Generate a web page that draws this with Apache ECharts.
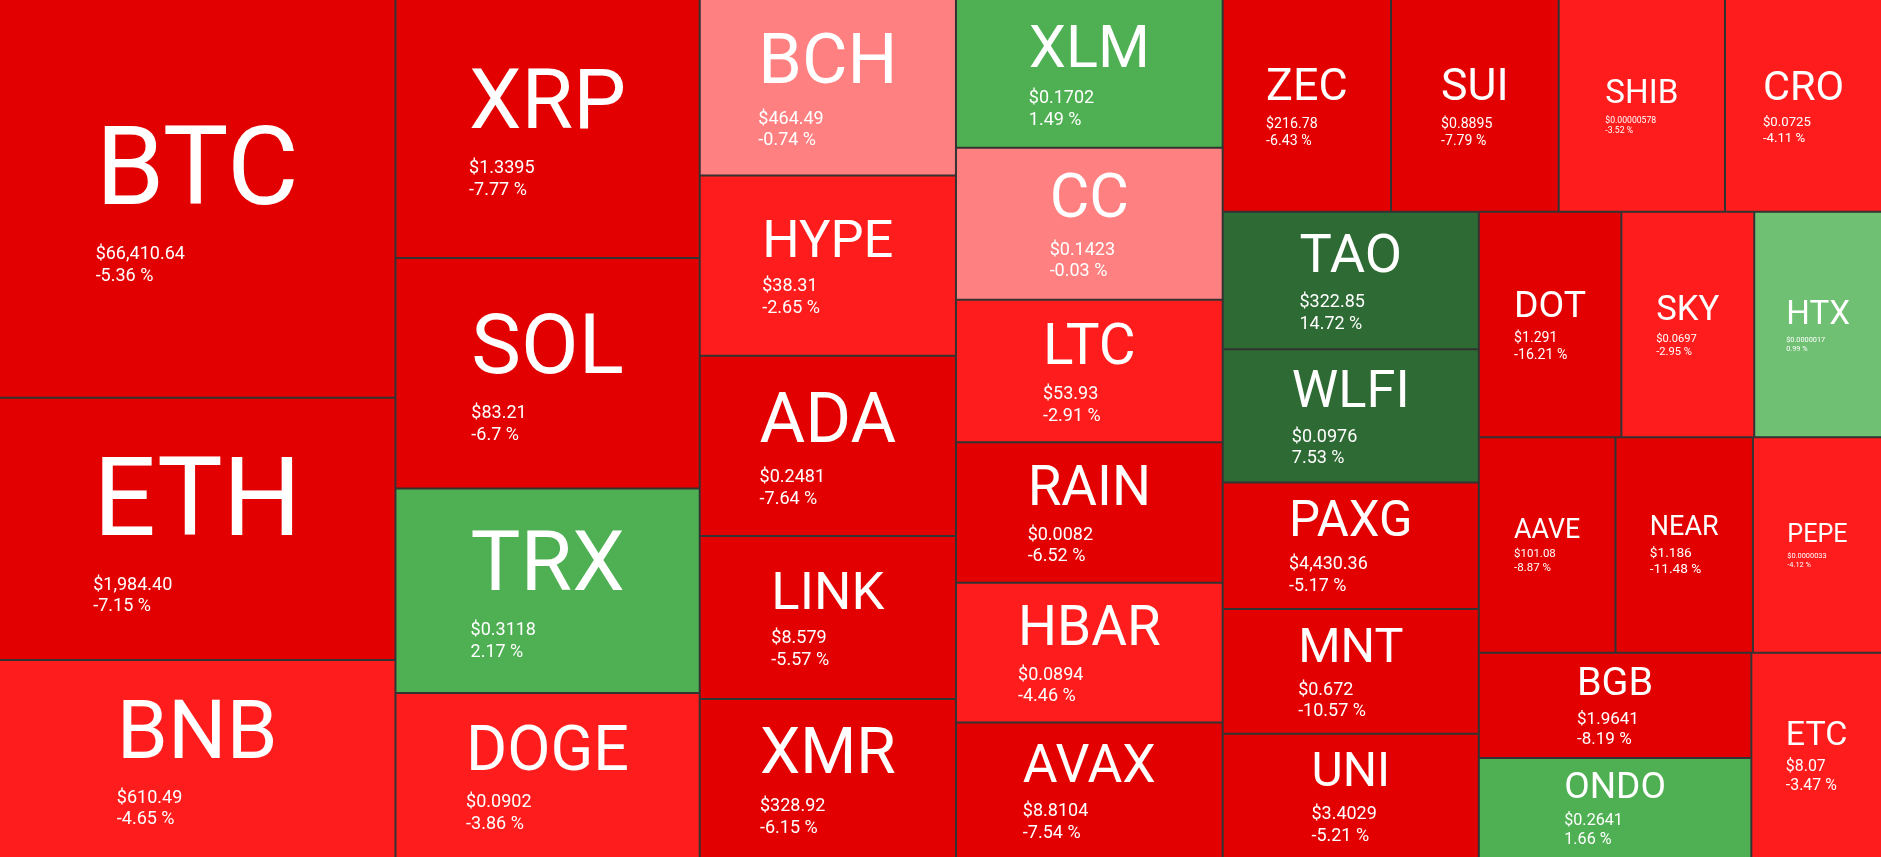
<!DOCTYPE html>
<html>
<head>
<meta charset="utf-8">
<script src="https://cdn.jsdelivr.net/npm/echarts@6/dist/echarts.min.js"></script>
<style>
html,body{margin:0;padding:0;background:#333333;overflow:hidden;}
#c{width:1881px;height:857px;}
</style>
</head>
<body>
<div id="c"></div>
<script>
// ---- data ----
const symbols = ['BTC','ETH','BNB','XRP','SOL','TRX','DOGE','BCH','HYPE','ADA','LINK','XMR',
  'XLM','CC','LTC','RAIN','HBAR','AVAX','ZEC','SUI','SHIB','CRO','TAO','WLFI','PAXG','MNT','UNI',
  'DOT','SKY','HTX','AAVE','NEAR','PEPE','BGB','ONDO','ETC'];
// tile weights (estimated from the reference tile areas)
const weights = [157608,103594,78289,78523,69920,62016,50069,45056,46080,46003,41651,40627,
  39522,40428,37923,37310,37150,36057,35700,35573,35275,33300,35072,34048,32256,31900,31700,
  32034,29853,28707,29369,29541,27735,28602,27158,26734];
const prices = ['$66,410.64','$1,984.40','$610.49','$1.3395','$83.21','$0.3118','$0.0902','$464.49',
  '$38.31','$0.2481','$8.579','$328.92','$0.1702','$0.1423','$53.93','$0.0082','$0.0894','$8.8104',
  '$216.78','$0.8895','$0.00000578','$0.0725','$322.85','$0.0976','$4,430.36','$0.672','$3.4029',
  '$1.291','$0.0697','$0.0000017','$101.08','$1.186','$0.0000033','$1.9641','$0.2641','$8.07'];
const changes = [-5.36,-7.15,-4.65,-7.77,-6.7,2.17,-3.86,-0.74,-2.65,-7.64,-5.57,-6.15,
  1.49,-0.03,-2.91,-6.52,-4.46,-7.54,-6.43,-7.79,-3.52,-4.11,14.72,7.53,-5.17,-10.57,-5.21,
  -16.21,-2.95,0.99,-8.87,-11.48,-4.12,-8.19,1.66,-3.47];

// ---- styling helpers ----
const FONT = 'Roboto';
function tileColor(c) {
  if (c <= -5) return '#e30000';
  if (c <= -2) return '#ff1c1c';
  if (c < 0) return '#ff8080';
  if (c < 1) return '#70c074';
  if (c < 5) return '#4eb052';
  return '#2e6a33';
}
function pctText(c) { return String(c) + ' %'; }

const mctx = document.createElement('canvas').getContext('2d');
function textW(t, size) { mctx.font = size + 'px ' + FONT; return mctx.measureText(t).width; }

function fmt(p) {
  const i = symbols.indexOf(p.name);
  return '{s|' + p.name + '}\n{p|' + prices[i] + '}\n{p|' + pctText(changes[i]) + '}';
}

function buildOption(data) {
  return {
    animation: false,
    backgroundColor: '#333333',
    series: [{
      type: 'treemap',
      left: 0, top: 0, right: 0, bottom: 0,
      roam: false,
      nodeClick: false,
      sort: false,
      visibleMin: 0,
      squareRatio: 0.5 * (1 + Math.sqrt(5)),
      breadcrumb: { show: false },
      upperLabel: { show: false },
      label: { show: true, position: 'inside', color: '#fff', fontFamily: FONT, overflow: 'none', formatter: fmt },
      itemStyle: { borderWidth: 0, gapWidth: 0, borderColor: '#333333' },
      levels: [
        { itemStyle: { borderWidth: 0, gapWidth: 2, borderColor: '#333333' } },
        { itemStyle: { borderWidth: 0, gapWidth: 0 } }
      ],
      emphasis: { disabled: true },
      data: data
    }]
  };
}

const chart = echarts.init(document.getElementById('c'), null, { renderer: 'canvas', width: 1881, height: 857 });
const baseData = symbols.map((s, i) => ({ name: s, value: weights[i], itemStyle: { color: tileColor(changes[i]) } }));
chart.setOption(buildOption(baseData));

// read tile sizes from the library's own layout
const sizes = {};
try {
  const sd = chart.getModel().getSeriesByIndex(0).getData();
  for (let i = 0; i < sd.count(); i++) {
    const l = sd.getItemLayout(i);
    if (l) sizes[sd.getName(i)] = l;
  }
} catch (e) { console.error(e); }

const finalData = symbols.map((s, i) => {
  const item = { name: s, value: weights[i], itemStyle: { color: tileColor(changes[i]) } };
  const l = sizes[s];
  if (l) {
    const w = l.width, h = l.height;
    const F = Math.max(8, Math.min((w - 10) * 0.86 / s.length, 0.459 * h - 7.9));
    const pStr = prices[i], cStr = pctText(changes[i]);
    const f = Math.max(6, Math.min(18, 0.31 * w / (textW(pStr, 100) / 100), 0.165 * h));
    const lineW = Math.max(textW(s, F), textW(pStr, f), textW(cStr, f));
    const Ls = 1.22 * F, Lp = 1.2 * f;
    const blockH = Ls + 2 * Lp;
    const pt = Math.max(0, (h - blockH) / 2);
    const ph = Math.max(0, (w - lineW) / 2);
    item.label = {
      padding: [pt, ph, 0, ph],
      rich: {
        s: { fontSize: F, lineHeight: Ls, fontFamily: FONT, color: '#fff', align: 'left' },
        p: { fontSize: f, lineHeight: Lp, fontFamily: FONT, color: '#fff', align: 'left' }
      }
    };
  }
  return item;
});
chart.setOption(buildOption(finalData), true);
</script>
</body>
</html>
